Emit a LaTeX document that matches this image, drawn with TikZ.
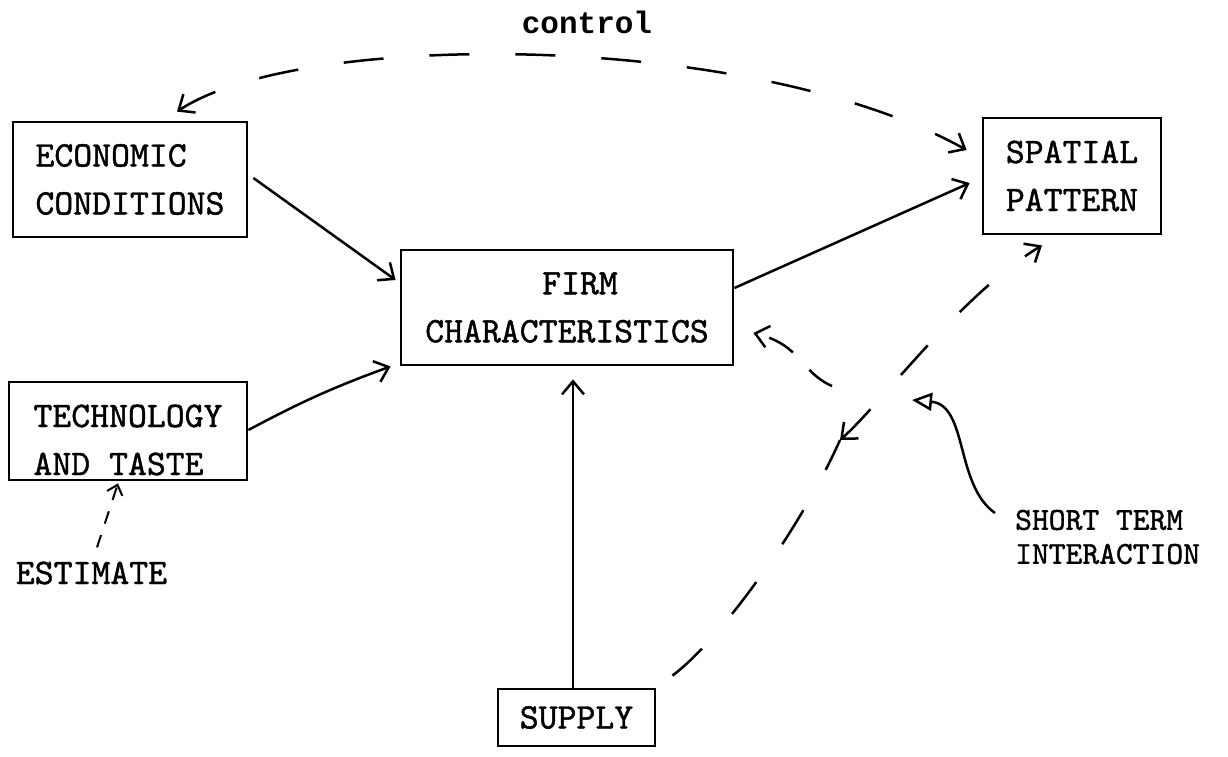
\documentclass[tikz,border=0pt]{standalone}
\usepackage{fontspec}
\usetikzlibrary{arrows.meta,calc}
\newfontfamily\ctlfont{Liberation Mono}
\newfontfamily\twfam{lmmono10-regular.otf}[FakeBold=1.2]
\newcommand{\twfont}{\twfam\fontsize{36}{48}\selectfont}
\newcommand{\twsmall}{\twfam\fontsize{32}{38}\selectfont}
\begin{document}
\begin{tikzpicture}[x=1pt,y=-1pt,
  box/.style={draw, line width=2.8pt, inner sep=0pt, font=\twfont},
  plain/.style={inner sep=0pt, font=\twfont},
  barb/.tip={Straight Barb[length=13pt,width=22pt]},
  conn/.style={line width=2.5pt, -barb},
  dconn/.style={line width=2.5pt, dash pattern=on 40pt off 46pt},
  bconn/.style={line width=2.5pt, dash pattern=on 28pt off 24pt}
]
\useasboundingbox (0,0) rectangle (1228,756);

% boxes
\node[box, minimum width=234pt, minimum height=115pt, align=left] (econ) at (130,179.5) {ECONOMIC\\CONDITIONS};
\node[box, minimum width=238pt, minimum height=98pt] (tech) at (128,431) {};
\node[plain, align=left] (techtxt) at (128,440) {TECHNOLOGY\\AND TASTE};
\node[box, minimum width=332pt, minimum height=115pt, align=center] (firm) at (567,307.5) {\hspace*{26pt}FIRM\\CHARACTERISTICS};
\node[box, minimum width=178pt, minimum height=116pt, align=center] (spatial) at (1072,176) {SPATIAL\\PATTERN};
\node[box, minimum width=157pt, minimum height=57pt] (supply) at (576.5,717.5) {SUPPLY};

% free labels
\node[plain] (est) at (91.5,573) {ESTIMATE};
\node[inner sep=0pt, font=\twsmall, anchor=west] (sti) at (1015,520) {SHORT TERM};
\node[inner sep=0pt, font=\twsmall, anchor=west] (sti2) at (1015,554) {INTERACTION};
\node[inner sep=0pt, font=\ctlfont\bfseries\fontsize{31}{36}\selectfont, anchor=base] (ctl) at (587,33) {control};

% solid connectors
\draw[conn] ([xshift=5pt,yshift=1.5pt]econ.east) -- ([xshift=-4pt,yshift=27.5pt]firm.west);
\draw[conn] ([yshift=1pt]tech.east) to[bend left=4] ([xshift=-9pt]firm.south west);
\draw[conn] ([yshift=19.5pt]firm.east) -- ([xshift=-12pt,yshift=-7pt]spatial.west);
\draw[conn] ($(supply.north)+(-3.5pt,0)$) -- ($(supply.north |- firm.south)+(-3.5pt,-13pt)$);

% control arc
\draw[dconn, barb-barb] ([xshift=47pt,yshift=9pt]econ.north) .. controls (300,30) and (750,30) .. ([xshift=-15pt,yshift=26pt]spatial.west);

% supply -- spatial dashed
\coordinate (mid) at (840,440);
\draw[dconn] ([xshift=16pt,yshift=12pt]supply.north east) .. controls (720,640) and (800,530) .. (mid);
\draw[dconn, barb-barb] (mid) .. controls (880,405) and (960,295) .. ([xshift=-30pt,yshift=-10pt]spatial.south);

% dashed return to firm
\coordinate (bstart) at (832,386);
\draw[bconn, -barb] (bstart) .. controls (800,372) and (802,345) .. ([xshift=19pt,yshift=-25.5pt]firm.east);

% short term interaction pointer
\coordinate (stitip) at (912,400);
\draw[line width=2.5pt, -{Triangle[open,length=20pt,width=18pt]}] ([xshift=-20pt,yshift=7pt]sti.west) .. controls (955,485) and (968,405) .. (stitip);

% estimate
\draw[line width=2pt, dash pattern=on 13pt off 12pt, -{Straight Barb[length=9pt,width=16pt]}] ([xshift=5.5pt,yshift=14pt]est.north) -- ([xshift=-10pt,yshift=-2pt]tech.south);
\end{tikzpicture}
\end{document}
